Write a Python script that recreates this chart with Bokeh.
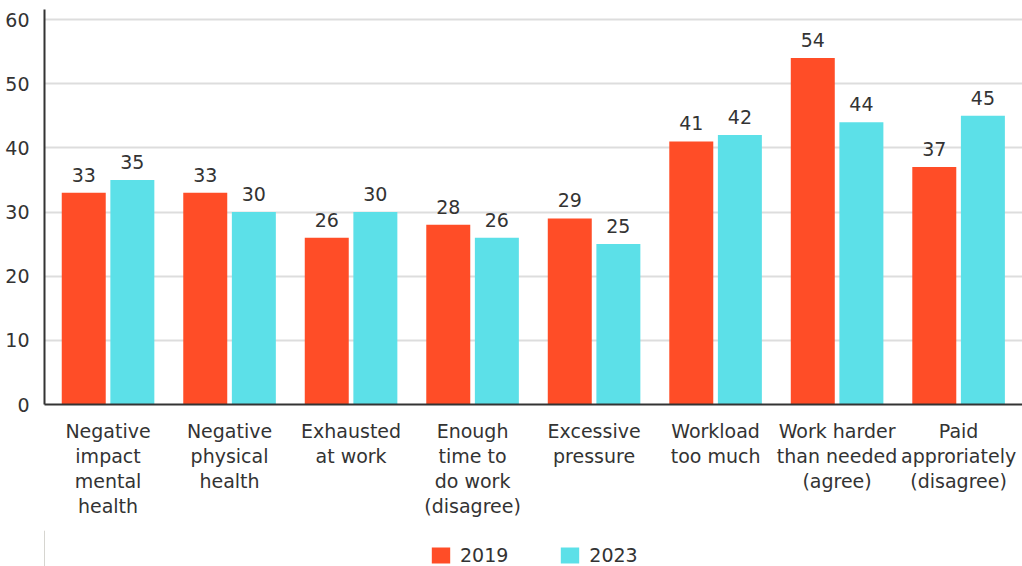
from bokeh.plotting import figure
from bokeh.layouts import column
from bokeh.models import ColumnDataSource, Range1d, FixedTicker, Legend, LegendItem
from bokeh.core.properties import value
from bokeh.embed import file_html
from bokeh.resources import INLINE

categories = [
    "Negative\nimpact\nmental\nhealth",
    "Negative\nphysical\nhealth",
    "Exhausted\nat work",
    "Enough\ntime to\ndo work\n(disagree)",
    "Excessive\npressure",
    "Workload\ntoo much",
    "Work harder\nthan needed\n(agree)",
    "Paid\napproriately\n(disagree)",
]
series = ["2019", "2023"]
values_2019 = [33, 33, 26, 28, 29, 41, 54, 37]
values_2023 = [35, 30, 30, 26, 25, 42, 44, 45]
y_ticks = [0, 10, 20, 30, 40, 50, 60]

FONT = "DejaVu Sans"
TEXT = "#333333"
RED = "#FF4D27"
CYAN = "#5CE0E8"

idx = list(range(len(categories)))
off = 0.2
bw = 0.362

src19 = ColumnDataSource(dict(x=[i - off for i in idx], top=values_2019,
                              lab=[str(v) for v in values_2019]))
src23 = ColumnDataSource(dict(x=[i + off for i in idx], top=values_2023,
                              lab=[str(v) for v in values_2023]))

p = figure(width=1022, height=530, output_backend="svg", toolbar_location=None,
           x_range=Range1d(-0.523, 7.526), y_range=Range1d(0, 61.56),
           min_border_left=44, min_border_right=0, min_border_top=9,
           min_border_bottom=126)
p.outline_line_color = None
p.background_fill_color = "white"
p.border_fill_color = "white"

p.vbar(x="x", top="top", width=bw, source=src19, color=RED, line_color=None)
p.vbar(x="x", top="top", width=bw, source=src23, color=CYAN, line_color=None)

for s in (src19, src23):
    p.text(x="x", y="top", text="lab", source=s, y_offset=-18,
           text_align="center", text_baseline="alphabetic",
           text_font=value(FONT), text_font_size="19px", text_color=TEXT)

# axes
p.xgrid.visible = False
p.ygrid.grid_line_color = "#DDDDDD"
p.ygrid.grid_line_width = 2
p.yaxis.ticker = FixedTicker(ticks=y_ticks)
p.xaxis.ticker = FixedTicker(ticks=idx)
p.xaxis.major_label_overrides = {i: c for i, c in enumerate(categories)}

for ax in (p.xaxis[0], p.yaxis[0]):
    ax.axis_line_color = TEXT
    ax.axis_line_width = 2
    ax.major_tick_line_color = None
    ax.minor_tick_line_color = None
    ax.major_label_text_font = FONT
    ax.major_label_text_font_size = "19px"
    ax.major_label_text_color = TEXT
p.yaxis.major_label_standoff = 9
p.xaxis.major_label_standoff = 9
p.xaxis.major_label_text_line_height = 1.15

# legend strip underneath the chart; its swatch renderers sit off-range
leg = figure(width=1022, height=36, output_backend="svg", toolbar_location=None,
             x_range=Range1d(0, 1), y_range=Range1d(0, 1),
             x_axis_location=None, y_axis_location=None,
             min_border=0, outline_line_color=None,
             background_fill_color=None, border_fill_color=None)
leg.grid.visible = False
l19 = leg.vbar(x=[-10], top=[1], width=0.1, fill_color=RED, line_color=None)
l23 = leg.vbar(x=[-10], top=[1], width=0.1, fill_color=CYAN, line_color=None)

legend = Legend(items=[LegendItem(label=series[0], renderers=[l19]),
                       LegendItem(label=series[1], renderers=[l23])],
                location=(385, 0), orientation="horizontal",
                glyph_width=23, glyph_height=20, label_standoff=8, spacing=50,
                padding=0, margin=0, border_line_alpha=0, background_fill_alpha=0,
                label_text_font=FONT, label_text_font_size="19px",
                label_text_color=TEXT, label_height=20)
leg.add_layout(legend)

layout = column(p, leg, spacing=0)
open("out.html", "w").write(file_html(layout, INLINE))
